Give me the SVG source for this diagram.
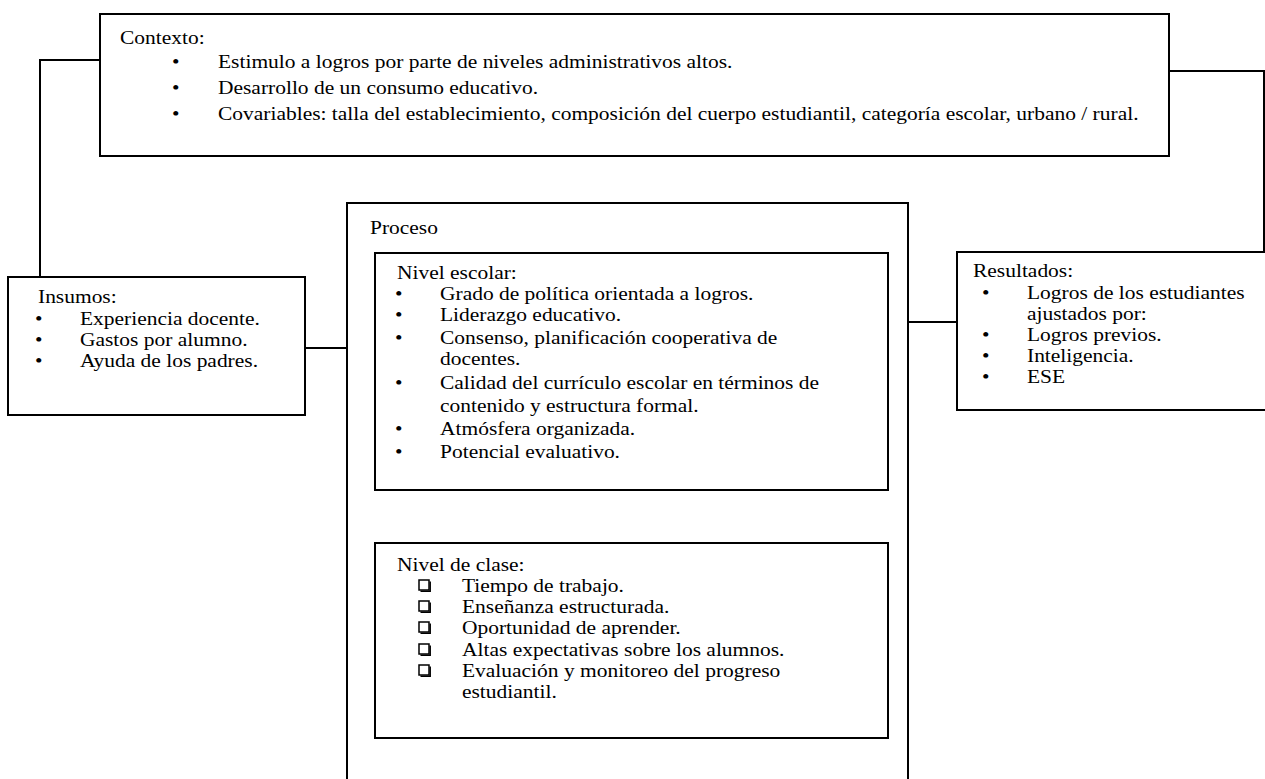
<svg xmlns="http://www.w3.org/2000/svg" width="1265" height="779" viewBox="0 0 1265 779">
<style>
.box{fill:#fff;stroke:#000;stroke-width:2}
.ln{fill:none;stroke:#000;stroke-width:2}
text{font-family:"Liberation Serif","Times New Roman",serif;font-size:19px;fill:#000;transform-box:fill-box;transform-origin:0 50%;transform:scaleX(1.13)}
.cb{fill:#fff;stroke:#000;stroke-width:1.5}
.cs{fill:none;stroke:#000;stroke-width:1.5}
</style>
<defs>
<g id="chk"><rect class="cb" x="0" y="0" width="10" height="10"/><polyline class="cs" points="1.5,11.2 11.2,11.2 11.2,1.5"/></g>
</defs>
<rect width="1265" height="779" fill="#fff"/>
<g id="connectors">
<polyline class="ln" points="100,60 40,60 40,277"/>
<polyline class="ln" points="1169,71 1264,71 1264,252"/>
<line class="ln" x1="305" y1="348" x2="347" y2="348"/>
<line class="ln" x1="908" y1="322" x2="957" y2="322"/>
</g>
<g id="contexto">
<rect class="box" x="100" y="14" width="1069" height="142"/>
<text x="120" y="44">Contexto:</text>
<text x="172" y="68">•</text><text x="218" y="68">Estimulo a logros por parte de niveles administrativos altos.</text>
<text x="172" y="94">•</text><text x="218" y="94">Desarrollo de un consumo educativo.</text>
<text x="172" y="120">•</text><text x="218" y="120">Covariables: talla del establecimiento, composición del cuerpo estudiantil, categoría escolar, urbano / rural.</text>
</g>
<g id="insumos">
<rect class="box" x="8" y="277" width="297" height="138"/>
<text x="38" y="303">Insumos:</text>
<text x="35" y="325">•</text><text x="80" y="325">Experiencia docente.</text>
<text x="35" y="346">•</text><text x="80" y="346">Gastos por alumno.</text>
<text x="35" y="367">•</text><text x="80" y="367">Ayuda de los padres.</text>
</g>
<g id="proceso">
<polyline class="ln" points="347,779 347,203 908,203 908,779"/>
<text x="370" y="234">Proceso</text>
</g>
<g id="nivel-escolar">
<rect class="box" x="375" y="253" width="513" height="237"/>
<text x="397" y="279">Nivel escolar:</text>
<text x="395" y="300">•</text><text x="440" y="300">Grado de política orientada a logros.</text>
<text x="395" y="321">•</text><text x="440" y="321">Liderazgo educativo.</text>
<text x="395" y="344">•</text><text x="440" y="344">Consenso, planificación cooperativa de</text>
<text x="440" y="365">docentes.</text>
<text x="395" y="389">•</text><text x="440" y="389">Calidad del currículo escolar en términos de</text>
<text x="440" y="412">contenido y estructura formal.</text>
<text x="395" y="435">•</text><text x="440" y="435">Atmósfera organizada.</text>
<text x="395" y="458">•</text><text x="440" y="458">Potencial evaluativo.</text>
</g>
<g id="nivel-clase">
<rect class="box" x="375" y="543" width="513" height="195"/>
<text x="397" y="571">Nivel de clase:</text>
<use href="#chk" x="419" y="580"/><text x="462" y="592">Tiempo de trabajo.</text>
<use href="#chk" x="419" y="601"/><text x="462" y="613">Enseñanza estructurada.</text>
<use href="#chk" x="419" y="622"/><text x="462" y="634">Oportunidad de aprender.</text>
<use href="#chk" x="419" y="644"/><text x="462" y="656">Altas expectativas sobre los alumnos.</text>
<use href="#chk" x="419" y="665"/><text x="462" y="677">Evaluación y monitoreo del progreso</text>
<text x="462" y="698">estudiantil.</text>
</g>
<g id="resultados">
<polyline class="ln" points="1265,252 957,252 957,410 1265,410"/>
<text x="973" y="277">Resultados:</text>
<text x="982" y="299">•</text><text x="1027" y="299">Logros de los estudiantes</text>
<text x="1027" y="320">ajustados por:</text>
<text x="982" y="341">•</text><text x="1027" y="341">Logros previos.</text>
<text x="982" y="362">•</text><text x="1027" y="362">Inteligencia.</text>
<text x="982" y="383">•</text><text x="1027" y="383">ESE</text>
</g>
</svg>
